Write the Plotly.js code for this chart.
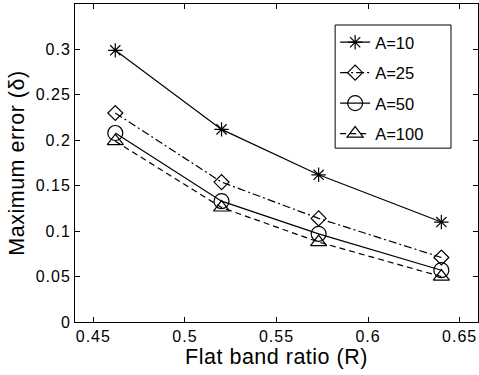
<!DOCTYPE html>
<html>
<head>
<meta charset="utf-8">
<script src="https://cdn.plot.ly/plotly-3.0.1.min.js"></script>
<style>
html,body{margin:0;padding:0;background:#fff;}
#chart{width:479px;height:375px;}
#chart .xtick text, #chart .ytick text{letter-spacing:1px;}
#chart .xtitle, #chart .ytitle{letter-spacing:0.5px;}
</style>
</head>
<body>
<div id="chart"></div>
<script>
const ratioR = [0.462, 0.520, 0.573, 0.640];
const seriesNames = ["A=10", "A=25", "A=50", "A=100"];
const errA10 = [0.299, 0.212, 0.162, 0.110];
const errA25 = [0.230, 0.154, 0.114, 0.071];
const errA50 = [0.208, 0.133, 0.097, 0.057];
const errA100 = [0.199, 0.126, 0.088, 0.050];
const xTicks = [0.45, 0.5, 0.55, 0.6, 0.65];
const xTickText = ["0.45", "0.5", "0.55", "0.6", "0.65"];
const yTicks = [0, 0.05, 0.1, 0.15, 0.2, 0.25, 0.3];
const yTickText = ["0", "0.05", "0.1", "0.15", "0.2", "0.25", "0.3"];

const seriesValues = [errA10, errA25, errA50, errA100];
const symbols = ["asterisk-open", "diamond-open", "circle-open", "triangle-up-open"];
const dashes = ["solid", "8px,3px,2px,3px", "solid", "6px,4px"];
const sizes = [12, 11.5, 15, 14];

const FONT = "Liberation Sans, Arial, sans-serif";

const traces = seriesValues.map((vals, i) => ({
  x: ratioR, y: vals, name: seriesNames[i], type: "scatter", mode: "lines+markers",
  legendgroup: "g" + i,
  line: {color: "#000", width: 1.2, dash: dashes[i]},
  marker: {symbol: symbols[i], size: sizes[i], color: "#000", line: {color: "#000", width: 1.2}}
}));

const axisCommon = {
  showgrid: false, zeroline: false, showline: true, mirror: "ticks",
  linecolor: "#000", linewidth: 1, ticks: "inside", ticklen: 5, tickcolor: "#000",
  tickfont: {family: FONT, size: 16, color: "#000"}
};

const layout = {
  width: 479, height: 375,
  margin: {l: 75, r: 1, t: 4, b: 53, pad: 0},
  paper_bgcolor: "#fff", plot_bgcolor: "#fff",
  showlegend: true,
  xaxis: Object.assign({}, axisCommon, {
    range: [0.44, 0.66], tickvals: xTicks, ticktext: xTickText,
    title: {text: "Flat band ratio (R)", font: {family: FONT, size: 21.5, color: "#000"}, standoff: 0}
  }),
  yaxis: Object.assign({}, axisCommon, {
    range: [0, 0.35], tickvals: yTicks, ticktext: yTickText,
    title: {text: "Maximum error (δ)", font: {family: FONT, size: 21.5, color: "#000"}, standoff: 9}
  }),
  shapes: [{
    type: "rect", xref: "paper", yref: "paper", layer: "above",
    x0: 0.6455, x1: 0.933, y0: 0.5467, y1: 0.934,
    line: {color: "#000", width: 1}, fillcolor: "#fff"
  }],
  legend: {
    x: 0.6455, y: 0.934, xanchor: "left", yanchor: "top",
    bgcolor: "rgba(0,0,0,0)", borderwidth: 0,
    font: {family: FONT, size: 16.5, color: "#000"},
    tracegroupgap: 6, itemwidth: 30
  }
};

Plotly.newPlot("chart", traces, layout, {displayModeBar: false, staticPlot: true});
</script>
</body>
</html>
